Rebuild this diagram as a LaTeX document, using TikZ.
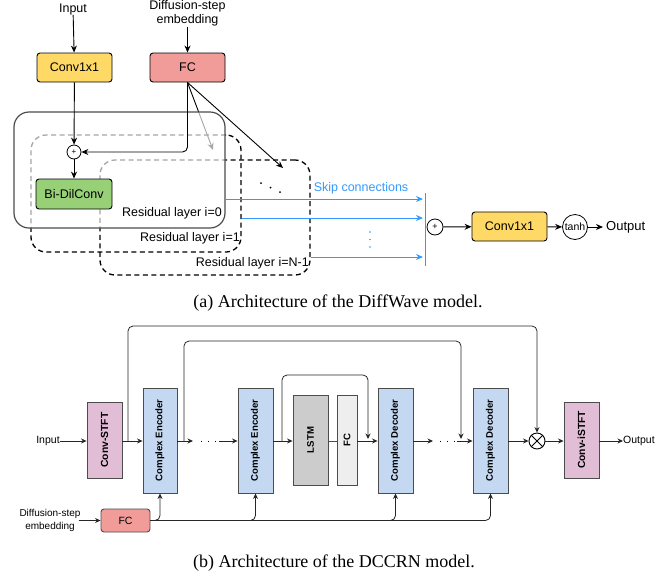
\documentclass[tikz,border=0pt]{standalone}
\usepackage{fontspec}
\setmainfont{Liberation Serif}
\setsansfont{Liberation Sans}
\usetikzlibrary{arrows.meta,calc}
\definecolor{cyel}{HTML}{FFD966}
\definecolor{cred}{HTML}{F19C99}
\definecolor{cgrn}{HTML}{97D077}
\definecolor{cblu}{HTML}{C4D8F2}
\definecolor{cpur}{HTML}{E2BDD6}
\definecolor{cgry}{HTML}{CCCCCC}
\definecolor{cltg}{HTML}{EEEEEE}
\definecolor{cskp}{HTML}{3399FF}
\newcommand\szA{\fontsize{12.5}{15}\selectfont}
\newcommand\szB{\fontsize{10.5}{13}\selectfont}
\newcommand\szC{\fontsize{9.6}{11}\selectfont}
\newcommand\szCap{\fontsize{18}{21}\selectfont}
\begin{document}
\begin{tikzpicture}[x=1pt,y=-1pt,
  arr/.style={-{Stealth[length=7pt,width=6pt]}, line width=0.9pt},
  arrb/.style={-{Stealth[length=5.5pt,width=5pt]}, line width=0.8pt, draw=black!85},
  boxa/.style={draw, line width=0.9pt, rounded corners=3pt, font=\sffamily\szA, inner sep=0pt},
  boxb/.style={draw=black!70, line width=0.9pt, rotate=90, font=\sffamily\bfseries\szC, inner sep=0pt},
  txta/.style={font=\sffamily\szA, inner sep=0pt},
  txtb/.style={font=\sffamily\szB, inner sep=0pt},
  lay/.style={draw, line width=1.3pt, dash pattern=on 5pt off 3.5pt, rounded corners=15pt, inner sep=0pt},
  skp/.style={draw=cskp, line width=1pt, -{Stealth[length=7pt,width=6pt]}},
  dotb/.style={circle, fill=cskp, inner sep=0pt, minimum size=1.8pt},
  dotk/.style={circle, fill=black, inner sep=0pt, minimum size=2pt},
  captxt/.style={font=\szCap, inner sep=0pt}
]
\useasboundingbox (0,0) rectangle (662,582);

% ---------------- (a) DiffWave ----------------
\node[txta] (ina) at (73,9) {Input};
\node[txta, align=center] (dsea) at (187.5,13.5) {Diffusion-step\\[-1pt]embedding};
\node[boxa, fill=cyel, minimum width=75pt, minimum height=29pt] (conva) at (74.5,67.5) {Conv1x1};
\node[boxa, fill=cred, minimum width=75pt, minimum height=29pt] (fca) at (187.5,67.5) {FC};
\draw[arr] (ina) -- (conva);
\draw[arr] (dsea) -- (fca);

% dashed layers
\node[lay, minimum width=210pt, minimum height=117pt] (L1) at (136,193.5) {};
\node[lay, minimum width=210pt, minimum height=115pt] (LN) at (205,217.5) {};

% arrows to other layers
\coordinate (g1) at (213,150);
\coordinate (gN) at (283,168);
\draw[arr] (fca.south) -- (g1);
\draw[arr] (fca.south) -- (gN);

% layer 0 (semi-transparent)
\node[draw=black!70, line width=1.2pt, rounded corners=15pt, fill=white, fill opacity=0.65, minimum width=211pt, minimum height=116pt] (L0) at (119.5,170) {};

\node[circle, draw, line width=0.8pt, fill=white, minimum size=14pt, inner sep=0pt, font=\sffamily\fontsize{8}{8}\selectfont] (plusa) at (74,152) {+};
\node[boxa, fill=cgrn, minimum width=76pt, minimum height=30pt] (dil) at (74,194) {Bi-DilConv};
\draw[arr] (conva) -- (plusa);
\draw[arr, rounded corners=5pt] (fca.south) |- (plusa.east);
\draw[arr] (plusa) -- (dil);

\node[txta, anchor=east] (r0) at (222,213) {Residual layer i=0};
\node[txta, anchor=east] (r1) at (240,238) {Residual layer i=1};
\node[txta, anchor=east] (rN) at (309,263) {Residual layer i=N-1};

% dots
\node[dotk] (d1) at (261,183) {};
\node[dotk] (d2) at (270.5,187.5) {};
\node[dotk] (d3) at (280,192) {};

% skip connections
\node[txta, text=cskp] (skt) at (361,188) {Skip connections};
\coordinate (sk0) at (423,199);
\coordinate (sk1) at (423,218);
\coordinate (skN) at (423,257);
\coordinate (bt) at (425,193);
\coordinate (bb) at (425,266);
\draw[skp] (L0.east |- sk0) -- (sk0);
\draw[skp] (L1.east |- sk1) -- (sk1);
\draw[skp] (LN.east |- skN) -- (skN);
\draw[cskp, line width=1pt] (bt) -- (bb);
\node[dotb] (b1) at (370,232) {};
\node[dotb] (b2) at (370,239.5) {};
\node[dotb] (b3) at (370,247) {};

\node[circle, draw, line width=0.8pt, minimum size=16pt, inner sep=0pt, font=\sffamily\fontsize{9}{9}\selectfont] (plusb) at (435,227) {+};
\node[boxa, fill=cyel, minimum width=75pt, minimum height=29pt] (convb) at (509.5,226.5) {Conv1x1};
\node[circle, draw, line width=0.8pt, minimum size=25pt, inner sep=0pt, font=\sffamily\fontsize{10.5}{10}\selectfont] (tanh) at (575,227) {tanh};
\node[txta, anchor=west, font=\sffamily\fontsize{13}{15}\selectfont] (outa) at (606,227) {Output};
\draw[arr] (plusb) -- (convb);
\draw[arr] (convb) -- (tanh);
\draw[arr, shorten >=3pt] (tanh) -- (outa);

\node[captxt] (capa) at (338,303) {(a) Architecture of the DiffWave model.};

% ---------------- (b) DCCRN ----------------
\node[txtb] (inb) at (48,441) {Input};
\node[boxb, fill=cpur, minimum width=76pt, minimum height=35pt, font=\sffamily\bfseries\fontsize{10.3}{12}\selectfont] (stft) at (104.5,440) {Conv-STFT};
\node[boxb, fill=cblu, minimum width=105pt, minimum height=34pt] (enc1) at (160,440.5) {Complex Encoder};
\node[boxb, fill=cblu, minimum width=105pt, minimum height=35pt] (enc2) at (255.5,440.5) {Complex Encoder};
\node[boxb, fill=cgry, minimum width=90pt, minimum height=35pt] (lstm) at (310.5,440) {LSTM};
\node[boxb, fill=cltg, minimum width=90pt, minimum height=20pt] (fcm) at (347,440) {FC};
\node[boxb, fill=cblu, minimum width=105pt, minimum height=35pt] (dec1) at (395.5,440.5) {Complex Decoder};
\node[boxb, fill=cblu, minimum width=105pt, minimum height=35pt] (dec2) at (490.5,440.5) {Complex Decoder};
\node[circle, draw, line width=0.9pt, minimum size=16pt, inner sep=0pt] (mul) at (537,441) {};
\draw[line width=0.9pt] (mul.north west) -- (mul.south east) (mul.north east) -- (mul.south west);
\node[boxb, fill=cpur, minimum width=76pt, minimum height=35pt, font=\sffamily\bfseries\fontsize{10.3}{12}\selectfont] (istft) at (581.5,440) {Conv-iSTFT};
\node[txtb, anchor=west] (outb) at (623,441) {Output};

\node[txtb, align=center, font=\sffamily\fontsize{10}{13}\selectfont] (dseb) at (50,520.5) {Diffusion-step\\embedding};
\node[draw=black!70, line width=0.9pt, rounded corners=3pt, fill=cred, minimum width=49pt, minimum height=23pt, inner sep=0pt, font=\sffamily\szB] (fcb) at (125.5,520.5) {FC};

\draw[arrb] (inb) -- (stft.north |- inb);
\draw[arrb] (stft.south |- inb) -- (enc1.north |- inb);
% dots between encoders
\coordinate (e1a) at (193,441);
\coordinate (e1b) at (219,441);
\draw[arrb] (enc1.south |- inb) -- (e1a);
\draw[line width=1pt, dash pattern=on 1pt off 6pt] (201,441) -- (217,441);
\draw[arrb] (e1b) -- (enc2.north |- inb);
\draw[arrb] (enc2.south |- inb) -- (lstm.north |- inb);
\draw[line width=0.8pt, black!70] (lstm.south |- inb) -- (fcm.north |- inb);
\draw[arrb] (fcm.south |- inb) -- (dec1.north |- inb);
\coordinate (d1a) at (433,441);
\coordinate (d1b) at (457,441);
\draw[arrb] (dec1.south |- inb) -- (d1a);
\draw[line width=1pt, dash pattern=on 1pt off 6pt] (440,441) -- (456,441);
\draw[arrb] (d1b) -- (dec2.north |- inb);
\draw[arrb] (dec2.south |- inb) -- (mul);
\draw[arrb] (mul) -- (istft.north |- inb);
\draw[arrb] (istft.south |- inb) -- (outb);

% skip connections (b)
\coordinate (s1) at (128,441);
\coordinate (s1t) at (537,326);
\coordinate (s2) at (184,441);
\coordinate (s2t) at (461,341);
\coordinate (s2e) at (461,439);
\coordinate (s3) at (282,441);
\coordinate (s3t) at (368,375);
\coordinate (s3e) at (368,439);
\draw[arrb, rounded corners=5pt] (s1) |- (s1t) -- (mul.north);
\draw[arrb, rounded corners=5pt] (s2) |- (s2t) -- (s2e);
\draw[arrb, rounded corners=5pt] (s3) |- (s3t) -- (s3e);

% diffusion embedding (b)
\draw[arrb] (dseb.east |- fcb) ++(-2,0) -- (fcb.west);
\draw[arrb, rounded corners=5pt] (fcb.east) -| (enc1.west);
\draw[arrb, rounded corners=5pt] (fcb.east) -| (enc2.west);
\draw[arrb, rounded corners=5pt] (fcb.east) -| (dec1.west);
\draw[arrb, rounded corners=5pt] (fcb.east) -| (dec2.west);

\node[captxt] (capb) at (334,563) {(b) Architecture of the DCCRN model.};
\end{tikzpicture}
\end{document}
